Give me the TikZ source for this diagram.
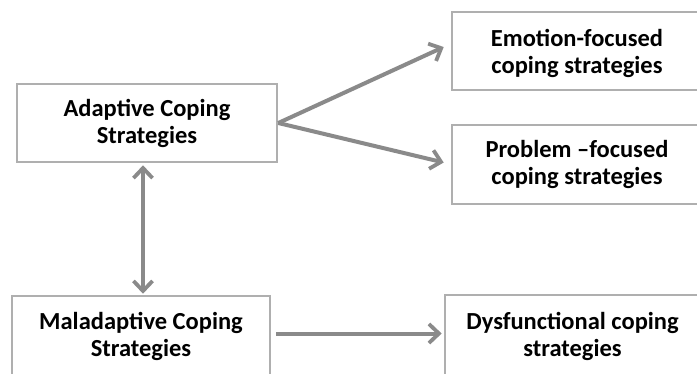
\documentclass[tikz,border=0pt]{standalone}
\usepackage{fontspec}
\setmainfont{Carlito}
\usetikzlibrary{arrows.meta}
\definecolor{boxgray}{RGB}{175,175,175}
\definecolor{arrgray}{RGB}{138,138,138}
\tikzset{
  cbox/.style={draw=boxgray, line width=2.6pt, fill=white, inner sep=0pt, align=center,
    font=\fontsize{24.5}{27}\selectfont\bfseries, text=black},
  tipb/.tip={Straight Barb[length=10pt,width=19pt,line width=3.8pt]},
  conn/.style={draw=arrgray, line width=4pt, -tipb},
  dconn/.style={draw=arrgray, line width=4pt, tipb-tipb}
}
\begin{document}
\begin{tikzpicture}[x=1pt,y=-1pt]
\useasboundingbox (0,0) rectangle (697,373);
\clip (0,0) rectangle (697,373);
\fill[white] (0,0) rectangle (697,373);
\node[cbox, minimum width=260pt, minimum height=78pt] (adapt) at (147,123) {Adaptive Coping\\Strategies};
\node[cbox, minimum width=250pt, minimum height=78pt] (emo) at (577,51) {\rule{0pt}{22pt}Emotion-focused\\coping strategies};
\node[cbox, minimum width=250pt, minimum height=79pt] (prob) at (577,164.5) {Problem --focused\\coping strategies};
\node[cbox, minimum width=258pt, minimum height=81pt] (mal) at (141,336.5) {Maladaptive Coping\\Strategies};
\node[cbox, minimum width=255pt, minimum height=82pt] (dys) at (572.5,336) {Dysfunctional coping\\strategies};
\draw[conn] (adapt.east) -- ([xshift=-7pt,yshift=4pt]emo.west);
\draw[conn] (adapt.east) -- ([xshift=-7pt,yshift=2pt]prob.west);
\draw[dconn] ([xshift=-4pt,yshift=-2pt]adapt.south) -- ([xshift=2pt,yshift=1pt]mal.north);
\draw[conn] ([xshift=5pt,yshift=3pt]mal.east) -- ([xshift=-2pt,yshift=3pt]mal.east -| dys.west);
\end{tikzpicture}
\end{document}
